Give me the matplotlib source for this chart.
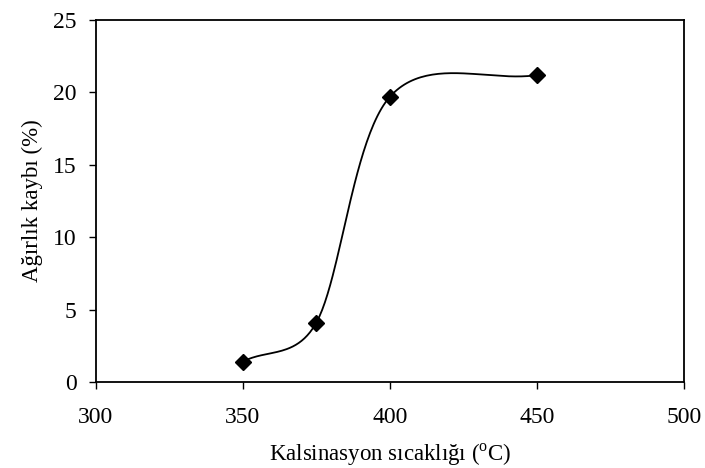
import numpy as np
import matplotlib.pyplot as plt

# calcination temperature (C) vs weight loss (%)
temps = [350, 375, 400, 450]
loss = [1.4, 4.1, 19.7, 21.2]

xticks = [300, 350, 400, 450, 500]
yticks = [0, 5, 10, 15, 20, 25]

plt.rcParams['font.family'] = ['Liberation Serif', 'DejaVu Serif']
plt.rcParams['mathtext.fontset'] = 'custom'
plt.rcParams['mathtext.rm'] = 'Liberation Serif'


def smooth(ax, xs, ys, n=50):
    # excel-like smoothed line, worked out in screen space:
    # catmull-rom handles (1/6 of tangent) capped at half the segment length
    p = ax.transData.transform(np.column_stack([xs, ys]).astype(float))
    m = len(p)
    d = np.hypot(*np.diff(p, axis=0).T)
    h_out = np.zeros_like(p)
    h_in = np.zeros_like(p)
    h_out[0] = (p[1] - p[0]) / 3
    h_in[-1] = (p[-1] - p[-2]) / 3
    for i in range(1, m - 1):
        tan = (p[i + 1] - p[i - 1]) / 6
        ln = np.hypot(*tan)
        h_in[i] = tan * min(1, d[i - 1] / 2 / ln)
        h_out[i] = tan * min(1, d[i] / 2 / ln)
    t = np.linspace(0, 1, n)[:, None]
    out = []
    for i in range(m - 1):
        p1, p2 = p[i], p[i + 1]
        c1 = p1 + h_out[i]
        c2 = p2 - h_in[i + 1]
        seg = ((1 - t) ** 3) * p1 + 3 * ((1 - t) ** 2) * t * c1 \
            + 3 * (1 - t) * t ** 2 * c2 + t ** 3 * p2
        out.append(seg)
    out = ax.transData.inverted().transform(np.vstack(out))
    return out[:, 0], out[:, 1]


fig = plt.figure(figsize=(7.05, 4.68), dpi=100)
ax = fig.add_axes([0.136, 0.184, 0.834, 0.773])
ax.set_xlim(300, 500)
ax.set_ylim(0, 25)

sx, sy = smooth(ax, temps, loss)
ax.plot(sx, sy, color='black', lw=1.3)
ax.plot(temps, loss, linestyle='none', marker='D', color='black', markersize=8.5)

ax.set_xticks(xticks)
ax.set_yticks(yticks)
ax.tick_params(direction='out', length=5, width=1, labelsize=17, pad=9)
ax.tick_params(axis='x', pad=13)
for s in ax.spines.values():
    s.set_linewidth(1.3)

ax.set_xlabel(r'Kalsinasyon sıcaklığı ($^{\mathrm{o}}$C)', fontsize=16.5, labelpad=10)
ax.set_ylabel('Ağırlık kaybı (%)', fontsize=16.5, labelpad=7)

fig.savefig('out.png', dpi=100, facecolor='white')
